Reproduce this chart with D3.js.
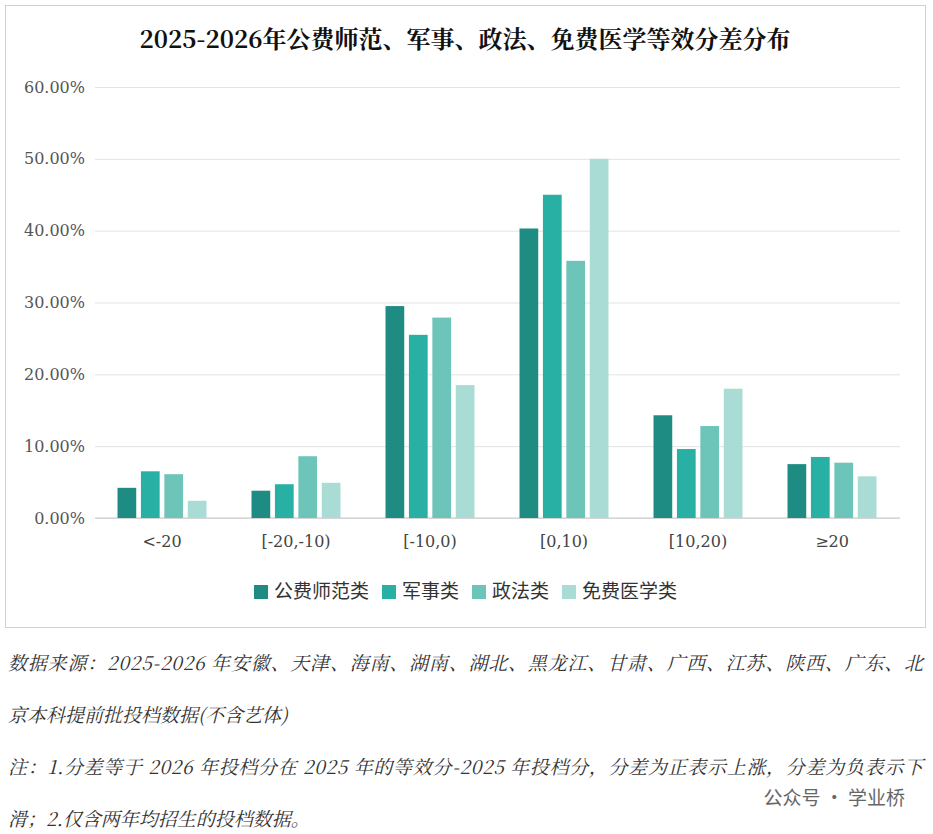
<!DOCTYPE html>
<html><head><meta charset="utf-8">
<script src="https://cdn.jsdelivr.net/npm/d3@7"></script>
<style>body{margin:0;background:#fff}</style>
</head><body><div class="chart-container"></div>
<script>
const categories = ['<-20', '[-20,-10)', '[-10,0)', '[0,10)', '[10,20)', '≥20'];
const seriesNames = ['公费师范类', '军事类', '政法类', '免费医学类'];
const normalValues = [4.2, 3.8, 29.5, 40.3, 14.3, 7.5];
const militaryValues = [6.5, 4.7, 25.5, 45.0, 9.6, 8.5];
const lawValues = [6.1, 8.6, 27.9, 35.8, 12.8, 7.7];
const medicalValues = [2.4, 4.9, 18.5, 50.0, 18.0, 5.8];
const yTicks = [0, 10, 20, 30, 40, 50, 60];
const colors = ['#1e8c82', '#27b0a3', '#6dc5b9', '#a9dcd4'];
const notes = [
  '数据来源：2025-2026 年安徽、天津、海南、湖南、湖北、黑龙江、甘肃、广西、江苏、陕西、广东、北',
  '京本科提前批投档数据(不含艺体)',
  '注：1.分差等于 2026 年投档分在 2025 年的等效分-2025 年投档分，分差为正表示上涨，分差为负表示下',
  '滑；2.仅含两年均招生的投档数据。'
];

const series = [normalValues, militaryValues, lawValues, medicalValues];
const rows = categories.map((c, i) => ({ cat: c, vals: series.map(s => s[i]) }));

const W = 933, H = 834;
const svg = d3.select('.chart-container').append('svg').attr('width', W).attr('height', H);

svg.append('rect').attr('x', 5.5).attr('y', 5.5).attr('width', 920).attr('height', 622)
  .attr('fill', '#fff').attr('stroke', '#d0d0d0');

svg.append('text').attr('x', 465).attr('y', 48).attr('text-anchor', 'middle')
  .attr('font-family', '"Noto Serif CJK SC","Noto Sans CJK SC",serif').attr('font-weight', 'bold')
  .attr('font-size', 24).attr('fill', '#111').text('2025-2026年公费师范、军事、政法、免费医学等效分差分布');

const x = d3.scaleBand().domain(categories).range([95, 899]).paddingInner(0.336).paddingOuter(0.168);
const xi = d3.scaleBand().domain(d3.range(4)).range([0, x.bandwidth()]).paddingInner(0.2);
const y = d3.scaleLinear().domain([0, 60]).range([518, 87]);

const yAxis = svg.append('g').attr('transform', 'translate(95,0)')
  .call(d3.axisLeft(y).tickValues(yTicks).tickFormat(d => d3.format('.2f')(d) + '%')
    .tickSizeInner(-805).tickSizeOuter(0).tickPadding(10));
yAxis.select('.domain').remove();
yAxis.selectAll('line').attr('stroke', '#e3e3e3');
yAxis.selectAll('text').attr('font-family', '"DejaVu Serif",serif').attr('font-size', 16).attr('fill', '#555');

const xAxis = svg.append('g').attr('transform', 'translate(0,518)')
  .call(d3.axisBottom(x).tickSize(0).tickPadding(18));
xAxis.select('.domain').attr('stroke', '#c8c8c8').attr('d', 'M95,0H900');
xAxis.selectAll('text').attr('font-family', '"DejaVu Serif",serif').attr('font-size', 16).attr('fill', '#444');

svg.append('g').selectAll('g').data(rows).join('g')
  .attr('transform', d => `translate(${x(d.cat)},0)`)
  .selectAll('rect').data(d => d.vals).join('rect')
  .attr('x', (d, i) => xi(i)).attr('width', xi.bandwidth())
  .attr('y', d => y(d)).attr('height', d => y(0) - y(d))
  .attr('fill', (d, i) => colors[i]);

const legend = svg.append('g').attr('transform', 'translate(254,592)');
let lx = 0;
seriesNames.forEach((n, i) => {
  legend.append('rect').attr('x', lx).attr('y', -7).attr('width', 14).attr('height', 14).attr('fill', colors[i]);
  legend.append('text').attr('x', lx + 20).attr('y', 6).attr('font-size', 19)
    .attr('font-family', '"Noto Sans CJK SC",sans-serif').attr('fill', '#333').text(n);
  lx += 20 + n.length * 19 + 13;
});

svg.append('g').selectAll('text').data(notes).join('text')
  .attr('x', 8).attr('y', (d, i) => 670 + i * 52)
  .attr('font-family', '"Noto Serif CJK SC","Noto Sans CJK SC",serif').attr('font-style', 'italic')
  .attr('font-size', 19).attr('textLength', (d, i) => i % 2 === 0 ? 915 : null)
  .attr('fill', '#333').text(d => d);

svg.append('text').attr('x', 905).attr('y', 805).attr('text-anchor', 'end')
  .attr('font-family', '"Noto Sans CJK SC",sans-serif').attr('font-size', 19).attr('fill', '#666')
  .text('公众号 · 学业桥');
</script></body></html>
